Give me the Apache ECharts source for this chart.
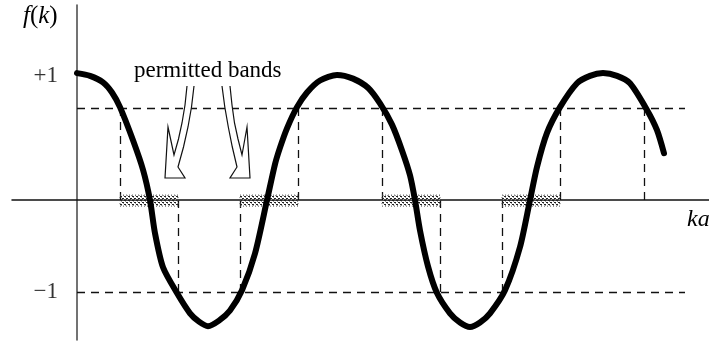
<!DOCTYPE html>
<html>
<head>
<meta charset="utf-8">
<script src="https://cdn.jsdelivr.net/npm/echarts@6/dist/echarts.min.js"></script>
<style>
    html, body { margin: 0; padding: 0; background: #fff; }
    #chart { width: 709px; height: 341px; }
</style>
</head>
<body>
<div id="chart"></div>
<script>
    // f(k) (ka in arbitrary units, f in units of the +-1 levels)
    var curveK = [0, 0.13, 0.26, 0.35, 0.43, 0.56, 0.66, 0.73, 0.78, 0.86, 1.00, 1.13, 1.22, 1.31,
                  1.42, 1.53, 1.65, 1.78, 1.90, 1.98, 2.03, 2.10, 2.20, 2.30, 2.43, 2.60,
                  2.76, 2.91, 3.03, 3.15, 3.25, 3.33, 3.38, 3.43, 3.51, 3.60, 3.73, 3.83, 3.93,
                  4.03, 4.13, 4.28, 4.43, 4.53, 4.60, 4.70, 4.83, 5.00, 5.13, 5.26,
                  5.40, 5.53, 5.70, 5.80, 5.87];
    var curveF = [1.38, 1.35, 1.28, 1.17, 1.01, 0.65, 0.33, 0, -0.36, -0.73, -1.01, -1.23, -1.32, -1.37,
                  -1.31, -1.20, -0.98, -0.58, 0, 0.39, 0.57, 0.78, 1.01, 1.17, 1.30, 1.36,
                  1.32, 1.22, 1.05, 0.82, 0.54, 0.27, 0, -0.33, -0.72, -1.01, -1.23, -1.33, -1.38,
                  -1.33, -1.23, -0.98, -0.51, 0, 0.36, 0.73, 1.01, 1.27, 1.35, 1.38,
                  1.35, 1.27, 0.98, 0.76, 0.51];

    // where the curve meets the +1 / -1 levels
    var upperCross = [0.43, 2.21, 3.05, 4.83, 5.67];
    var lowerCross = [1.01, 1.63, 3.63, 4.25];
    var levels = [1, -1];
    var levelEnd = 6.08;

    // permitted bands on the ka axis
    var bandStart = [0.43, 1.63, 3.05, 4.25];
    var bandEnd = [1.01, 2.21, 3.63, 4.83];

    var tickValues = [1.35, -1];
    var tickLabels = ['+1', '\u22121'];

    var chart = echarts.init(document.getElementById('chart'));

    // dotted fill for the bands
    var pat = document.createElement('canvas');
    pat.width = 4; pat.height = 4;
    var ctx = pat.getContext('2d');
    ctx.fillStyle = '#222';
    ctx.fillRect(0, 0, 2, 1);
    ctx.fillRect(2, 2, 2, 1);
    ctx.fillStyle = '#999';
    ctx.fillRect(1, 1, 1, 1);
    ctx.fillRect(3, 3, 1, 1);

    var guides = [];
    levels.forEach(function (v) {
        guides.push({ coords: [[0, v], [levelEnd, v]] });
    });
    upperCross.forEach(function (x) {
        guides.push({ coords: [[x, 0], [x, 1]] });
    });
    lowerCross.forEach(function (x) {
        guides.push({ coords: [[x, 0], [x, -1]] });
    });

    var serif = '"Liberation Serif", "DejaVu Serif", serif';

    // hollow arrows under "permitted bands"
    var arrowL = [[187, 86], [185, 105], [182, 123], [178.5, 139], [174, 155], [168, 127], [165, 178],
                  [185, 178], [178, 167], [183.5, 147], [188, 127], [191.5, 107], [194, 86]];
    var arrowR = [[230, 86], [232, 105], [234.5, 123], [238, 139], [242, 155], [247, 127], [250, 178],
                  [230, 178], [237, 167], [232.3, 147], [228.3, 127], [224.8, 107], [222, 86]];

    function arrow(pts) {
        return [
            { type: 'polygon', z: 10, shape: { points: pts }, style: { fill: '#fff', stroke: null } },
            { type: 'polyline', z: 11, shape: { points: pts }, style: { fill: null, stroke: '#111', lineWidth: 1.2 } }
        ];
    }

    chart.setOption({
        animation: false,
        backgroundColor: '#fff',
        grid: { left: 12, right: 0, top: 5, bottom: 1 },
        xAxis: {
            type: 'value',
            min: -0.65,
            max: 6.32,
            axisLine: { lineStyle: { color: '#111', width: 1.5 } },
            axisTick: { show: false },
            axisLabel: { show: false },
            splitLine: { show: false }
        },
        yAxis: {
            type: 'value',
            min: -1.52,
            max: 2.12,
            axisLine: { show: true, lineStyle: { color: '#444', width: 1.5 } },
            axisTick: { show: false },
            axisLabel: { show: false },
            splitLine: { show: false }
        },
        series: [
            {
                type: 'lines',
                coordinateSystem: 'cartesian2d',
                silent: true,
                z: 2,
                lineStyle: { color: '#111', width: 1.3, type: [8, 6], opacity: 1 },
                data: guides
            },
            {
                type: 'custom',
                silent: true,
                z: 3,
                data: bandStart.map(function (s, i) { return [s, bandEnd[i]]; }),
                renderItem: function (params, api) {
                    var p0 = api.coord([api.value(0), 0]);
                    var p1 = api.coord([api.value(1), 0]);
                    return {
                        type: 'rect',
                        shape: { x: p0[0], y: p0[1] - 5, width: p1[0] - p0[0], height: 11 },
                        style: {
                            fill: { image: pat, repeat: 'repeat' },
                            stroke: '#555',
                            lineWidth: 1,
                            lineDash: [1, 2]
                        }
                    };
                }
            },
            {
                type: 'line',
                silent: true,
                z: 5,
                showSymbol: false,
                smooth: 0.25,
                lineStyle: { color: '#000', width: 6, cap: 'round', join: 'round' },
                data: curveK.map(function (k, i) { return [k, curveF[i]]; })
            },
            {
                type: 'scatter',
                silent: true,
                symbolSize: 0,
                data: tickValues.map(function (v) { return [0, v]; }),
                label: {
                    show: true,
                    position: 'left',
                    distance: 19,
                    color: '#000',
                    fontFamily: serif,
                    fontSize: 23,
                    formatter: function (p) { return tickLabels[p.dataIndex]; }
                }
            }
        ],
        graphic: [
            {
                type: 'text', left: 23, top: 4,
                style: {
                    text: '{i|f}({i|k})',
                    rich: { i: { fontStyle: 'italic', fontFamily: serif, fontSize: 25 } },
                    font: '25px ' + serif, fill: '#000'
                }
            },
            {
                type: 'text', left: 134, top: 59,
                style: { text: 'permitted bands', font: '23px ' + serif, fill: '#000' }
            },
            {
                type: 'text', left: 687, top: 208,
                style: { text: 'ka', font: 'italic 24px ' + serif, fill: '#000' }
            }
        ].concat(arrow(arrowL), arrow(arrowR))
    });
</script>
</body>
</html>
